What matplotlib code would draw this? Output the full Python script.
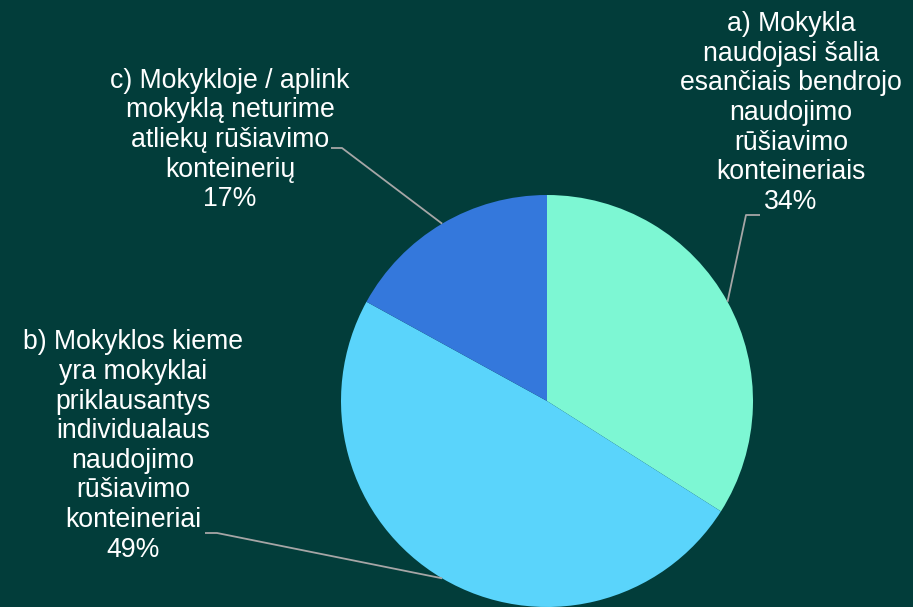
import numpy as np
import matplotlib.pyplot as plt

plt.rcParams['font.family'] = ['Liberation Sans', 'DejaVu Sans']

# duomenys
labels = ['a) Mokykla\nnaudojasi šalia\nesančiais bendrojo\nnaudojimo\nrūšiavimo\nkonteineriais',
          'b) Mokyklos kieme\nyra mokyklai\npriklausantys\nindividualaus\nnaudojimo\nrūšiavimo\nkonteineriai',
          'c) Mokykloje / aplink\nmokyklą neturime\natliekų rūšiavimo\nkonteinerių']
values = [34, 49, 17]
colors = ['#7DF7D3', '#5AD4FB', '#3478DC']

bg = '#023D3A'
fig = plt.figure(figsize=(9.13, 6.07), dpi=100, facecolor=bg)
ax = fig.add_axes([0, 0, 1, 1])
ax.set_facecolor(bg)

cx, cy, r = 547, 206, 206
wedges, _ = ax.pie(values, colors=colors, startangle=90, counterclock=False,
                   center=(cx, cy), radius=r, wedgeprops=dict(linewidth=0))

# pozicijos etiketems: (teksto centras, alkūnės taškai)
text_pos = [(791, 494), (133, 161), (230, 467)]
elbows = [[(760, 392), (746, 392)],
          [(205, 74), (217, 74)],
          [(331, 459), (342, 459)]]

for w, lab, v, tp, el in zip(wedges, labels, values, text_pos, elbows):
    ang = np.deg2rad((w.theta1 + w.theta2) / 2)
    ex = cx + r * np.cos(ang)
    ey = cy + r * np.sin(ang)
    xs = [p[0] for p in el] + [ex]
    ys = [p[1] for p in el] + [ey]
    ax.plot(xs, ys, color='#A6A6A6', lw=1.3, zorder=1, solid_capstyle='butt')
    ax.text(tp[0], tp[1], f'{lab}\n{v}%', ha='center', va='center',
            color='white', fontsize=19.2, linespacing=1.18)

ax.set_xlim(0, 913)
ax.set_ylim(0, 607)
ax.set_aspect('equal')
ax.axis('off')

plt.savefig('out.png', dpi=100, facecolor=bg)
